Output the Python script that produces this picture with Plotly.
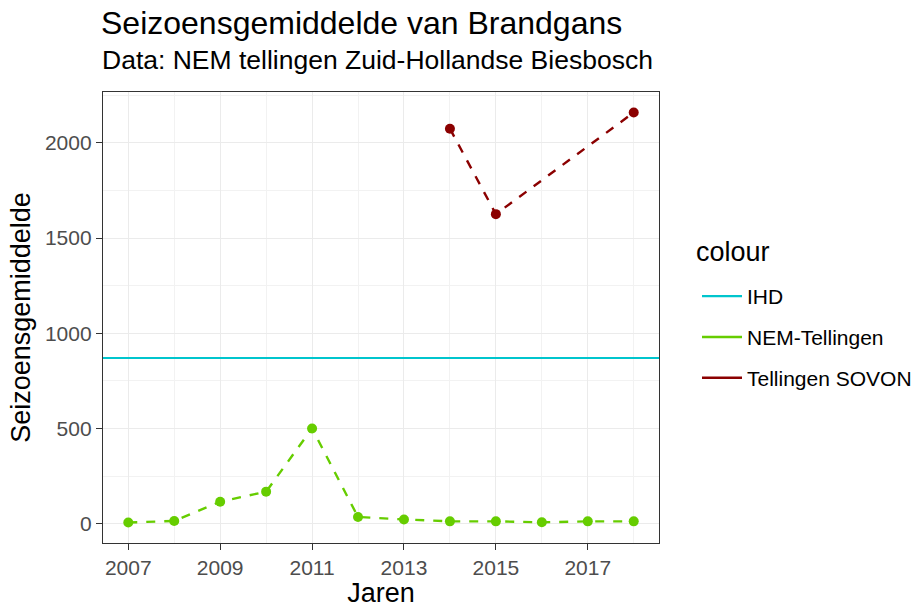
import plotly.graph_objects as go

# Seasonal means of Barnacle Goose (Brandgans) in the Zuid-Hollandse Biesbosch
nem_years = [2007, 2008, 2009, 2010, 2011, 2012, 2013, 2014, 2015, 2016, 2017, 2018]
nem_values = [6, 14, 115, 168, 500, 35, 22, 12, 12, 7, 12, 12]

sovon_years = [2014, 2015, 2018]
sovon_values = [2075, 1626, 2160]

ihd_value = 870

x_ticks = [2007, 2009, 2011, 2013, 2015, 2017]
y_ticks = [0, 500, 1000, 1500, 2000]

series_names = ["IHD", "NEM-Tellingen", "Tellingen SOVON"]
series_colors = ["#00C5CD", "#66CD00", "#8B0000"]

FONT = "Liberation Sans"
W, H = 921, 608

# ggplot-style 5% expansion of the data ranges
all_years = nem_years + sovon_years
x_lo, x_hi = min(all_years), max(all_years)
x_pad = (x_hi - x_lo) * 0.05
all_vals = nem_values + sovon_values + [ihd_value]
y_lo, y_hi = min(all_vals), max(all_vals)
y_pad = (y_hi - y_lo) * 0.05
x_range = [x_lo - x_pad, x_hi + x_pad]
y_range = [y_lo - y_pad, y_hi + y_pad]

fig = go.Figure()

# horizontal reference level spanning the whole panel
fig.add_trace(go.Scatter(
    x=x_range, y=[ihd_value, ihd_value], mode="lines",
    line=dict(color=series_colors[0], width=2),
    showlegend=False, hoverinfo="skip",
))
fig.add_trace(go.Scatter(
    x=nem_years, y=nem_values, mode="lines+markers",
    line=dict(color=series_colors[1], width=2.4, dash="dash"),
    marker=dict(color=series_colors[1], size=10),
    showlegend=False,
))
fig.add_trace(go.Scatter(
    x=sovon_years, y=sovon_values, mode="lines+markers",
    line=dict(color=series_colors[2], width=2.4, dash="dash"),
    marker=dict(color=series_colors[2], size=10),
    showlegend=False,
))

# legend keys: plain solid lines
for name, color in zip(series_names, series_colors):
    fig.add_trace(go.Scatter(
        x=[None], y=[None], mode="lines", name=name,
        line=dict(color=color, width=2.4), legendgroup=name,
    ))

fig.update_layout(
    width=W, height=H,
    margin=dict(l=103, r=262, t=92, b=65),
    paper_bgcolor="white", plot_bgcolor="white",
    font=dict(family=FONT, color="black"),
    title=dict(
        text="Seizoensgemiddelde van Brandgans",
        x=101 / W, xanchor="left", xref="container",
        y=1 - 23 / H, yanchor="middle", yref="container",
        font=dict(size=32, color="black", family=FONT),
    ),
    legend=dict(
        font=dict(size=21, color="black"),
        xref="container", yref="container",
        x=697 / W, xanchor="left", y=1 - 276 / H, yanchor="top",
        tracegroupgap=10.5, itemwidth=40, bgcolor="rgba(0,0,0,0)",
    ),
    showlegend=True,
    annotations=[
        dict(
            text="Data: NEM tellingen Zuid-Hollandse Biesbosch",
            xref="paper", yref="paper", x=0, xanchor="left", xshift=-3,
            y=(543 - 60) / 451, yanchor="middle", showarrow=False,
            font=dict(size=26.5, color="black", family=FONT),
        ),
        dict(
            text="colour",
            xref="paper", yref="paper", x=(697 - 103) / 556, xanchor="left", xshift=-3,
            y=(543 - 252) / 451, yanchor="middle", showarrow=False,
            font=dict(size=27, color="black", family=FONT),
        ),
    ],
)

axis_common = dict(
    showline=True, mirror=True, linecolor="#333333", linewidth=1.3,
    ticks="outside", tickcolor="#333333", ticklen=6, tickwidth=1.3,
    tickfont=dict(size=21, color="#4D4D4D", family=FONT),
    showgrid=True, gridcolor="#EBEBEB", gridwidth=1.3,
    zeroline=False, automargin=False,
)

fig.update_xaxes(
    range=x_range, tickmode="array", tickvals=x_ticks,
    ticktext=[str(v) for v in x_ticks],
    title=dict(text="Jaren", font=dict(size=27, color="black"), standoff=4),
    minor=dict(tickmode="array", tickvals=nem_years, showgrid=True,
               gridcolor="#F2F2F2", gridwidth=0.8, ticks=""),
    **axis_common,
)
fig.update_yaxes(
    range=y_range, tickmode="array", tickvals=y_ticks,
    ticktext=[str(v) for v in y_ticks],
    title=dict(text="Seizoensgemiddelde", font=dict(size=27, color="black"), standoff=6),
    minor=dict(tickmode="array", tickvals=[250, 750, 1250, 1750, 2250], showgrid=True,
               gridcolor="#F2F2F2", gridwidth=0.8, ticks=""),
    **axis_common,
)

fig.write_html("out.html")
